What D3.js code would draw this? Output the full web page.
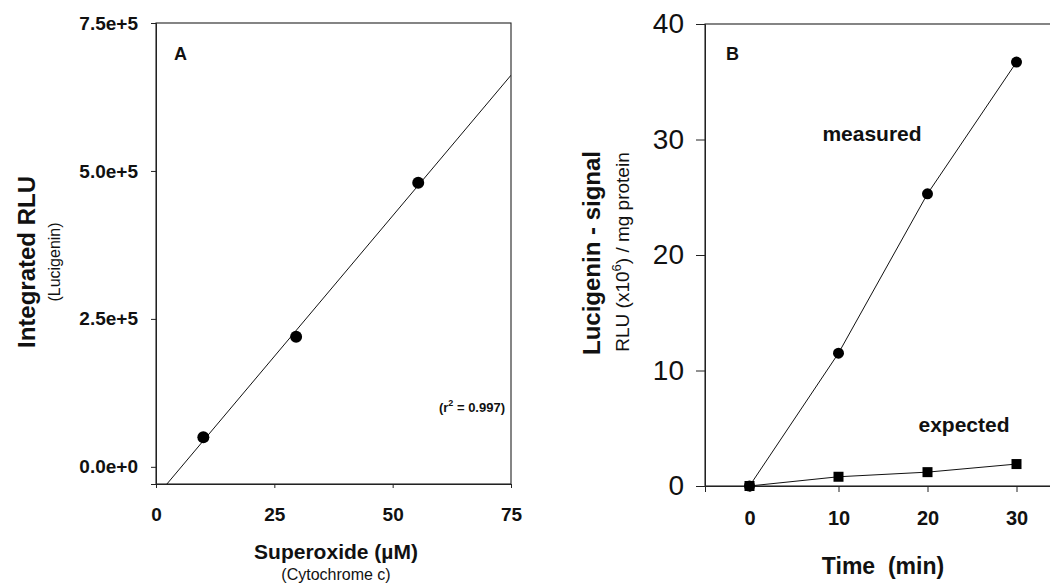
<!DOCTYPE html>
<html>
<head>
<meta charset="utf-8">
<script src="https://cdn.jsdelivr.net/npm/d3@7"></script>
<style>
  body { margin: 0; background: #fff; }
  svg text { font-family: "Liberation Sans", Arial, sans-serif; fill: #111; white-space: pre; }
  .domain, .tick line { stroke: #222; }
</style>
</head>
<body>
<svg id="chart" width="1050" height="584"></svg>
<script>
// panel A: calibration, superoxide vs integrated RLU
var superoxide = [10, 29.6, 55.4];
var integratedRLU = [50000, 220000, 480000];
var ticksA_x = [0, 25, 50, 75];
var ticksA_y = [0, 250000, 500000, 750000];
var r2Text = "0.997";

// panel B: lucigenin signal over time
var timeMin = [0, 10, 20, 30];
var measured = [0, 11.5, 25.3, 36.7];
var expected = [0, 0.8, 1.2, 1.9];
var ticksB_x = [0, 10, 20, 30];
var ticksB_y = [0, 10, 20, 30, 40];

var svg = d3.select("#chart");

// ---------- panel A ----------
var xA = d3.scaleLinear().domain([0, 75]).range([156, 511]);
var yA = d3.scaleLinear().domain([-29000, 750000]).range([484, 23]);

var gA = svg.append("g");

gA.append("clipPath").attr("id", "clipA")
  .append("rect")
  .attr("x", xA(0)).attr("y", yA(750000))
  .attr("width", xA(75) - xA(0)).attr("height", yA(-29000) - yA(750000));

// frame
gA.append("rect")
  .attr("x", xA(0)).attr("y", yA(750000))
  .attr("width", xA(75) - xA(0)).attr("height", yA(-29000) - yA(750000))
  .attr("fill", "none").attr("stroke", "#222").attr("stroke-width", 1.1);

var axA_x = gA.append("g")
  .attr("transform", "translate(0," + yA(-29000) + ")")
  .call(d3.axisBottom(xA).tickValues(ticksA_x).tickSize(4).tickPadding(20));
axA_x.selectAll("text").style("font-size", "19px").style("font-weight", "bold");

var axA_y = gA.append("g")
  .attr("transform", "translate(" + xA(0) + ",0)")
  .call(d3.axisLeft(yA).tickValues(ticksA_y).tickSize(5).tickPadding(13).tickFormat(d3.format(".1e")));
axA_y.selectAll("text").style("font-size", "19px").style("font-weight", "bold");

// least squares fit through the calibration points
var mx = d3.mean(superoxide), my = d3.mean(integratedRLU);
var sxy = d3.sum(superoxide, function(d, i) { return (d - mx) * (integratedRLU[i] - my); });
var sxx = d3.sum(superoxide, function(d) { return (d - mx) * (d - mx); });
var slope = sxy / sxx, intercept = my - slope * mx;

gA.append("line")
  .attr("clip-path", "url(#clipA)")
  .attr("x1", xA(0)).attr("y1", yA(intercept))
  .attr("x2", xA(75)).attr("y2", yA(intercept + slope * 75))
  .attr("stroke", "#111").attr("stroke-width", 1);

gA.selectAll("circle.pt")
  .data(superoxide)
  .enter().append("circle")
  .attr("class", "pt")
  .attr("cx", function(d) { return xA(d); })
  .attr("cy", function(d, i) { return yA(integratedRLU[i]); })
  .attr("r", 6)
  .attr("fill", "#000");

gA.append("text").attr("x", 174).attr("y", 60)
  .style("font-size", "18px").style("font-weight", "bold").text("A");

var r2 = gA.append("text").attr("x", 505).attr("y", 412).attr("text-anchor", "end")
  .style("font-size", "13px").style("font-weight", "bold");
r2.append("tspan").text("(r");
r2.append("tspan").attr("dy", -6).style("font-size", "9px").text("2");
r2.append("tspan").attr("dy", 6).text(" = " + r2Text + ")");

gA.append("text")
  .attr("transform", "translate(35,262) rotate(-90)")
  .attr("text-anchor", "middle")
  .style("font-size", "24px").style("font-weight", "bold")
  .text("Integrated RLU");
gA.append("text")
  .attr("transform", "translate(60,262) rotate(-90)")
  .attr("text-anchor", "middle")
  .style("font-size", "16px")
  .text("(Lucigenin)");

gA.append("text").attr("x", 336).attr("y", 559).attr("text-anchor", "middle")
  .style("font-size", "21px").style("font-weight", "bold").text("Superoxide (\u00b5M)");
gA.append("text").attr("x", 336).attr("y", 580).attr("text-anchor", "middle")
  .style("font-size", "16px").text("(Cytochrome c)");

// ---------- panel B ----------
var xB = d3.scaleLinear().domain([-5, 35]).range([705, 1061]);
var yB = d3.scaleLinear().domain([0, 40]).range([486, 24]);

var gB = svg.append("g");

gB.append("rect")
  .attr("x", xB(-5)).attr("y", yB(40))
  .attr("width", xB(35) - xB(-5)).attr("height", yB(0) - yB(40))
  .attr("fill", "none").attr("stroke", "#222").attr("stroke-width", 1.1);

var axB_x = gB.append("g")
  .attr("transform", "translate(0," + yB(0) + ")")
  .call(d3.axisBottom(xB).tickValues(ticksB_x).tickSize(6).tickPadding(19));
axB_x.selectAll("text").style("font-size", "20px").style("font-weight", "bold");

var axB_y = gB.append("g")
  .attr("transform", "translate(" + xB(-5) + ",0)")
  .call(d3.axisLeft(yB).tickValues(ticksB_y).tickSize(9).tickPadding(12));
axB_y.selectAll("text").style("font-size", "28px");

var lineB = d3.line()
  .x(function(d, i) { return xB(timeMin[i]); })
  .y(function(d) { return yB(d); });

gB.append("path").datum(measured)
  .attr("d", lineB).attr("fill", "none").attr("stroke", "#111").attr("stroke-width", 1);
gB.append("path").datum(expected)
  .attr("d", lineB).attr("fill", "none").attr("stroke", "#111").attr("stroke-width", 1);

gB.selectAll("rect.sq")
  .data(expected)
  .enter().append("rect")
  .attr("class", "sq")
  .attr("x", function(d, i) { return xB(timeMin[i]) - 5; })
  .attr("y", function(d) { return yB(d) - 5; })
  .attr("width", 10).attr("height", 10)
  .attr("fill", "#000");

gB.selectAll("circle.pt")
  .data(measured)
  .enter().append("circle")
  .attr("class", "pt")
  .attr("cx", function(d, i) { return xB(timeMin[i]); })
  .attr("cy", function(d) { return yB(d); })
  .attr("r", 5.5)
  .attr("fill", "#000");

gB.append("text").attr("x", 726).attr("y", 60)
  .style("font-size", "18px").style("font-weight", "bold").text("B");

gB.append("text").attr("x", 872).attr("y", 141).attr("text-anchor", "middle")
  .style("font-size", "21px").style("font-weight", "bold").text("measured");
gB.append("text").attr("x", 964).attr("y", 432).attr("text-anchor", "middle")
  .style("font-size", "21px").style("font-weight", "bold").text("expected");

gB.append("text")
  .attr("transform", "translate(600,253) rotate(-90)")
  .attr("text-anchor", "middle")
  .style("font-size", "24px").style("font-weight", "bold")
  .text("Lucigenin - signal");
var rlu = gB.append("text")
  .attr("transform", "translate(629,252) rotate(-90)")
  .attr("text-anchor", "middle")
  .style("font-size", "19px");
rlu.append("tspan").text("RLU (x10");
rlu.append("tspan").attr("dy", -8).style("font-size", "13px").text("6");
rlu.append("tspan").attr("dy", 8).text(") / mg protein");

gB.append("text").attr("x", 883).attr("y", 574).attr("text-anchor", "middle")
  .style("font-size", "23px").style("font-weight", "bold").text("Time  (min)");
</script>
</body>
</html>
